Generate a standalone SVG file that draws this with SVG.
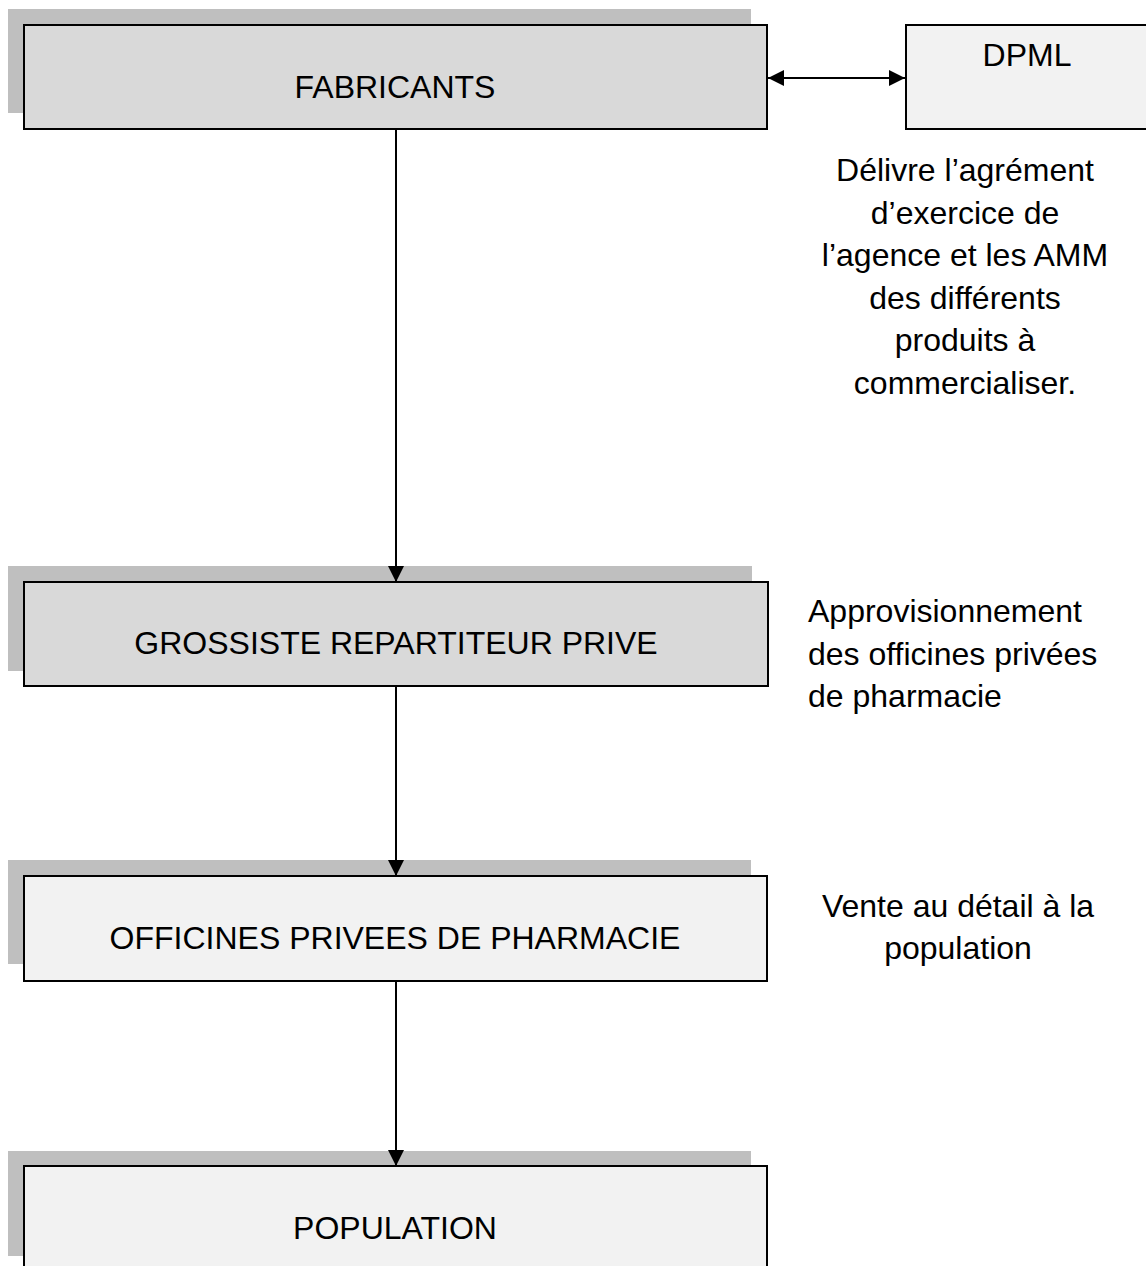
<svg xmlns="http://www.w3.org/2000/svg" width="1146" height="1266" viewBox="0 0 1146 1266">
<style>
text{font-family:"Liberation Sans",Arial,sans-serif;font-size:32px;fill:#000}
.shadow{fill:#bfbfbf}
.box{stroke:#000;stroke-width:2}
.dark{fill:#d9d9d9}
.light{fill:#f2f2f2}
.mid{text-anchor:middle}
.conn{stroke:#000;stroke-width:2;fill:none}
</style>
<defs>
<marker id="ah" markerUnits="userSpaceOnUse" markerWidth="16" markerHeight="16" viewBox="0 0 16 16" refX="16" refY="8" orient="auto-start-reverse">
<path d="M0,0 L16,8 L0,16 Z" fill="#000"/>
</marker>
</defs>
<rect width="1146" height="1266" fill="#fff"/>
<g id="fabricants">
<rect class="shadow" x="8" y="9" width="743" height="104"/>
<rect class="box dark" x="24" y="25" width="743" height="104"/>
<text class="mid" x="395" y="98">FABRICANTS</text>
</g>
<g id="dpml">
<rect class="box light" x="906" y="25" width="250" height="104"/>
<text class="mid" x="1027" y="66">DPML</text>
</g>
<g id="dpml-note">
<text class="mid" x="965" y="181">Délivre l’agrément</text>
<text class="mid" x="965" y="224">d’exercice de</text>
<text class="mid" x="965" y="266">l’agence et les AMM</text>
<text class="mid" x="965" y="309">des différents</text>
<text class="mid" x="965" y="351">produits à</text>
<text class="mid" x="965" y="394">commercialiser.</text>
</g>
<g id="grossiste">
<rect class="shadow" x="8" y="566" width="744" height="105"/>
<rect class="box dark" x="24" y="582" width="744" height="104"/>
<text class="mid" x="396" y="654">GROSSISTE REPARTITEUR PRIVE</text>
</g>
<g id="grossiste-note">
<text x="808" y="622">Approvisionnement</text>
<text x="808" y="665">des officines privées</text>
<text x="808" y="707">de pharmacie</text>
</g>
<g id="officines">
<rect class="shadow" x="8" y="860" width="743" height="104"/>
<rect class="box light" x="24" y="876" width="743" height="105"/>
<text class="mid" x="395" y="949">OFFICINES PRIVEES DE PHARMACIE</text>
</g>
<g id="officines-note">
<text class="mid" x="958" y="917">Vente au détail à la</text>
<text class="mid" x="958" y="959">population</text>
</g>
<g id="population">
<rect class="shadow" x="8" y="1151" width="743" height="105"/>
<rect class="box light" x="24" y="1166" width="743" height="110"/>
<text class="mid" x="395" y="1239">POPULATION</text>
</g>
<g id="connectors">
<line class="conn" x1="396" y1="130" x2="396" y2="582" marker-end="url(#ah)"/>
<line class="conn" x1="396" y1="687" x2="396" y2="876" marker-end="url(#ah)"/>
<line class="conn" x1="396" y1="982" x2="396" y2="1166" marker-end="url(#ah)"/>
<line class="conn" x1="768" y1="78" x2="905" y2="78" marker-start="url(#ah)" marker-end="url(#ah)"/>
</g>
</svg>
